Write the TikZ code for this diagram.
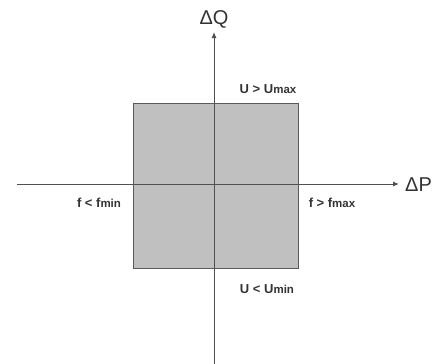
\documentclass[tikz,border=0pt]{standalone}
\usepackage{fontspec}
\setmainfont{Liberation Sans}
\usetikzlibrary{arrows.meta}
\definecolor{boxfill}{HTML}{C0C0C0}
\definecolor{boxline}{HTML}{5A5A5A}
\definecolor{axisline}{HTML}{505050}
\definecolor{txt}{HTML}{333333}
\newcommand{\lowsub}[1]{\raisebox{-0.3pt}{\fontsize{11.5}{12}\selectfont #1}}
\begin{document}
\begin{tikzpicture}[x=1pt,y=-1pt,
  axis/.style={draw=axisline,line width=1pt,-{Latex[length=6pt,width=5pt]}},
  lbl/.style={font=\fontsize{13}{14}\selectfont\bfseries,text=txt,inner sep=0pt},
  axlbl/.style={font=\fontsize{20}{20}\selectfont,text=txt,inner sep=0pt}]
\useasboundingbox (0,0) rectangle (437,364);
\node[draw=boxline,fill=boxfill,line width=1pt,minimum width=165pt,minimum height=165pt,inner sep=0pt] (region) at (215.5,185.5) {};
\coordinate (xs) at (17,184);
\coordinate (xe) at (399,184);
\coordinate (ys) at (214,364);
\coordinate (ye) at (214,32);
\draw[axis] (xs) -- (xe);
\draw[axis] (ys) -- (ye);
\node[axlbl,anchor=west] (dp) at (405,185) {ΔP};
\node[axlbl] (dq) at (214,19) {ΔQ};
\node[lbl] (umax) at (268,89) {U > U\lowsub{max}};
\node[lbl] (umin) at (267,289) {U < U\lowsub{min}};
\node[lbl] (fmin) at (99,203) {f < f\lowsub{min}};
\node[lbl] (fmax) at (332,203) {f > f\lowsub{max}};
\end{tikzpicture}
\end{document}
